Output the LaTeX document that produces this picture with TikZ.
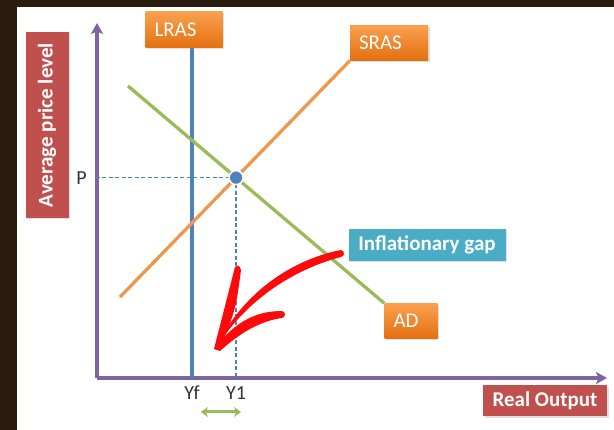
\documentclass[tikz,border=0pt]{standalone}
\usepackage{fontspec}
\setmainfont{Carlito}
\usetikzlibrary{arrows.meta,shadows,intersections,positioning}

\definecolor{marco}{HTML}{2B1B0C}
\definecolor{morado}{HTML}{8064A2}
\definecolor{azul}{HTML}{4F81BD}
\definecolor{naranja}{HTML}{F9A050}
\definecolor{naranjaosc}{HTML}{E4700F}
\definecolor{verde}{HTML}{9BBB59}
\definecolor{rojo}{HTML}{C0504D}
\definecolor{turquesa}{HTML}{4BACC6}
\definecolor{texto}{HTML}{333333}
\definecolor{rojoflecha}{HTML}{FF0A0A}

\tikzset{
  caja/.style={text=white, inner ysep=0pt, anchor=center,
    drop shadow={opacity=0.25, shadow xshift=1.5pt, shadow yshift=-1.5pt}},
  cajanar/.style={caja, top color=naranja, bottom color=naranjaosc,
    inner xsep=9pt, align=left, font=\fontsize{21}{23}\selectfont},
  cajaroja/.style={caja, fill=rojo, inner xsep=0pt, font=\bfseries\fontsize{21}{23}\selectfont},
  cajaturq/.style={caja, fill=turquesa, inner xsep=0pt, font=\bfseries\fontsize{21}{23}\selectfont},
  etiq/.style={text=texto, inner sep=0pt, font=\fontsize{20}{22}\selectfont},
  curva/.style={line width=3.3pt},
  guia/.style={azul, line width=1.2pt, dash pattern=on 4pt off 2.5pt},
}

\begin{document}
\begin{tikzpicture}[x=1pt, y=1pt, >={Stealth[length=11pt, width=12pt, inset=2.5pt]}]
  \useasboundingbox (0,0) rectangle (614,430);

  % Marco oscuro y fondo
  \fill[marco] (0,0) rectangle (614,430);
  \fill[white] (17,0) rectangle (614,423);

  % Ejes
  \coordinate (O) at (97,52);
  \coordinate (ytop) at (97,407);
  \coordinate (xend) at (607,52);
  \draw[->, morado, curva] (O) -- (ytop);
  \draw[->, morado, curva] (O) -- (xend);

  % Títulos de los ejes
  \node[cajaroja, rotate=90, minimum width=186pt, minimum height=43pt]
    (ylab) at (47,305) {Average price level};
  \node[cajaroja, minimum width=124pt, minimum height=31pt]
    (xlab) at (545,29) {Real Output};

  % Cajas de las curvas
  \node[cajanar, text width=59pt, minimum height=36pt] (lras) at (184,400) {LRAS};
  \node[cajanar, text width=60pt, minimum height=35pt] (sras) at (389,387) {SRAS};
  \node[cajanar, text width=35pt, minimum height=35pt] (ad) at (411,109) {AD};

  % LRAS vertical en Yf
  \coordinate (yf) at (192,52);
  \draw[azul, curva] (yf) -- (yf |- lras.south);

  % SRAS y AD
  \coordinate (sras0) at (120,133);
  \coordinate (ad0) at (128,344);
  \draw[naranja!95!black, curva, name path=sras] (sras0) -- (sras.south west);
  \draw[verde, curva, name path=ad] (ad0) -- (ad.north west);

  % Equilibrio
  \path[name intersections={of=sras and ad, by=E}];
  \coordinate (Px) at (E -| O);
  \coordinate (Yx) at (E |- O);
  \draw[guia] (E) -- (Px);
  \draw[guia] (E) -- (Yx);
  \node[circle, fill=azul, draw=white, line width=1.5pt, minimum size=14pt,
    inner sep=0pt] (Eq) at (E) {};

  % Etiquetas
  \node[etiq, left=10pt of Px] (P) {P};
  \node[etiq, below=8pt of yf] (Yf) {Yf};
  \node[etiq, below=8pt of Yx] (Y1) {Y1};

  % Brecha entre Yf y Y1
  \coordinate (g1) at (201,18);
  \coordinate (g2) at (241,18);
  \draw[verde, line width=3pt, {Stealth[length=7pt, width=10pt]}-{Stealth[length=7pt, width=10pt]}]
    (g1) -- (g2);

  % Brecha inflacionaria
  \node[cajaturq, minimum width=157pt, minimum height=32pt] (gap) at (427,185) {Inflationary gap};

  % Flecha roja a mano
  \fill[rojoflecha] (341,180)
    .. controls (290,170) and (240,135) .. (215,80)
    .. controls (243,127) and (291,160) .. (341,173)
    .. controls (345,174) and (345,179) .. (341,180) -- cycle;
  \fill[rojoflecha] (214,81) .. controls (224,120) .. (235,163)
    .. controls (239,165) .. (241,160) .. controls (236,122) .. (222,86) -- cycle;
  \fill[rojoflecha] (214,81) .. controls (236,110) and (258,119) .. (282,119)
    .. controls (286,118) and (286,113) .. (282,112)
    .. controls (260,109) and (240,97) .. (220,79) -- cycle;
\end{tikzpicture}
\end{document}
